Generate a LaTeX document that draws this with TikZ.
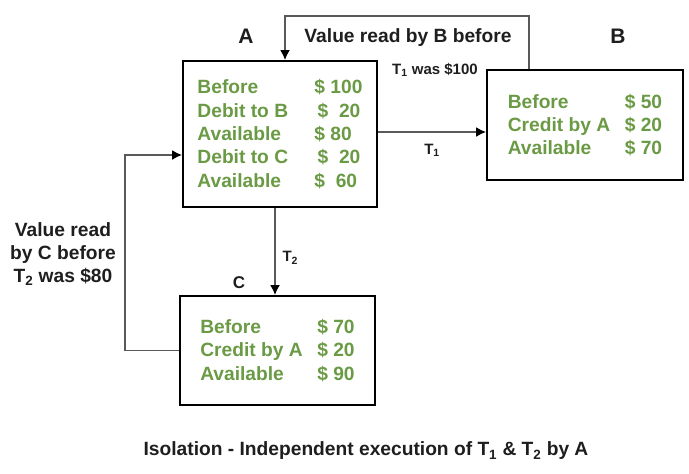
\documentclass[tikz,border=0pt]{standalone}
\usepackage{fontspec}
\setmainfont{Liberation Sans}
\usetikzlibrary{arrows.meta, positioning, calc}

\definecolor{acctgreen}{RGB}{106,154,68}
\definecolor{inkgray}{RGB}{30,30,30}
\newcommand{\acline}[2]{\makebox[117pt][l]{#1}#2}
\newcommand{\boxfont}{\fontsize{19.2}{23.3}\selectfont\bfseries}
\newcommand{\smallfont}{\fontsize{15}{18}\selectfont\bfseries}

\begin{document}
\begin{tikzpicture}[x=1pt, y=-1pt,
  account/.style={draw, line width=2pt, align=left, inner sep=0pt, text=acctgreen, font=\boxfont},
  flow/.style={-{Latex[length=10pt,width=10pt,color=black]}, line width=1.5pt, draw=black!65},
  tag/.style={font=\fontsize{21}{24}\selectfont\bfseries, text=inkgray},
  note/.style={font=\boxfont, text=inkgray, align=center},
  small/.style={font=\smallfont, text=inkgray}
]
\useasboundingbox (0,0) rectangle (689,474);

% Accounts
\node[account, minimum width=194pt, minimum height=146pt] (A) at (280,134)
  {\acline{Before}{\$ 100}\\ \acline{Debit to B}{\,\$~~20}\\ \acline{Available}{\$ 80}\\
   \acline{Debit to C}{\,\$~~20}\\ \acline{Available}{\$~~60}};
\node[account, minimum width=196pt, minimum height=110pt] (B) at (585,125)
  {\acline{Before}{\$ 50}\\ \acline{Credit by A}{\$ 20}\\ \acline{Available}{\$ 70}};
\node[account, minimum width=195pt, minimum height=109pt] (C) at (277.5,350.5)
  {\acline{Before}{\$ 70}\\ \acline{Credit by A}{\$ 20}\\ \acline{Available}{\$ 90}};

% Account names
\node[tag] (labA) at (246,36) {A};
\node[tag] (labB) at (618,36) {B};
\node[tag, font=\fontsize{17}{20}\selectfont\bfseries] (labC) at (239,283) {C};

% Transfers
\draw[flow] ([yshift=2pt]A.east) -- ([yshift=2pt]A.east -| B.west);
\draw[flow] ([xshift=-5pt]A.south) -- ([xshift=-5pt]A.south |- C.north);
\node[small] (t1) at (432,150) {T\textsubscript{1}};
\node[small, anchor=west] (t2) at (279,258) {T\textsubscript{2}};

% Values read back
\draw[flow] ([xshift=43pt]B.north west) |- ([xshift=5pt,yshift=44pt]A.north) -- ([xshift=5pt]A.north);
\draw[flow] (C.west) -- ++(-54,0) |- ([yshift=-21pt]A.west);
\node[note] (readB) at (408,38) {Value read by B before};
\node[small] (wasB) at (435,70) {T\textsubscript{1} was \$100};
\node[note] (readC) at (63,254) {Value read\\by C before\\T\textsubscript{2} was \$80};

% Caption
\node[note] (caption) at (366,451) {Isolation - Independent execution of T\textsubscript{1} \& T\textsubscript{2} by A};
\end{tikzpicture}
\end{document}
